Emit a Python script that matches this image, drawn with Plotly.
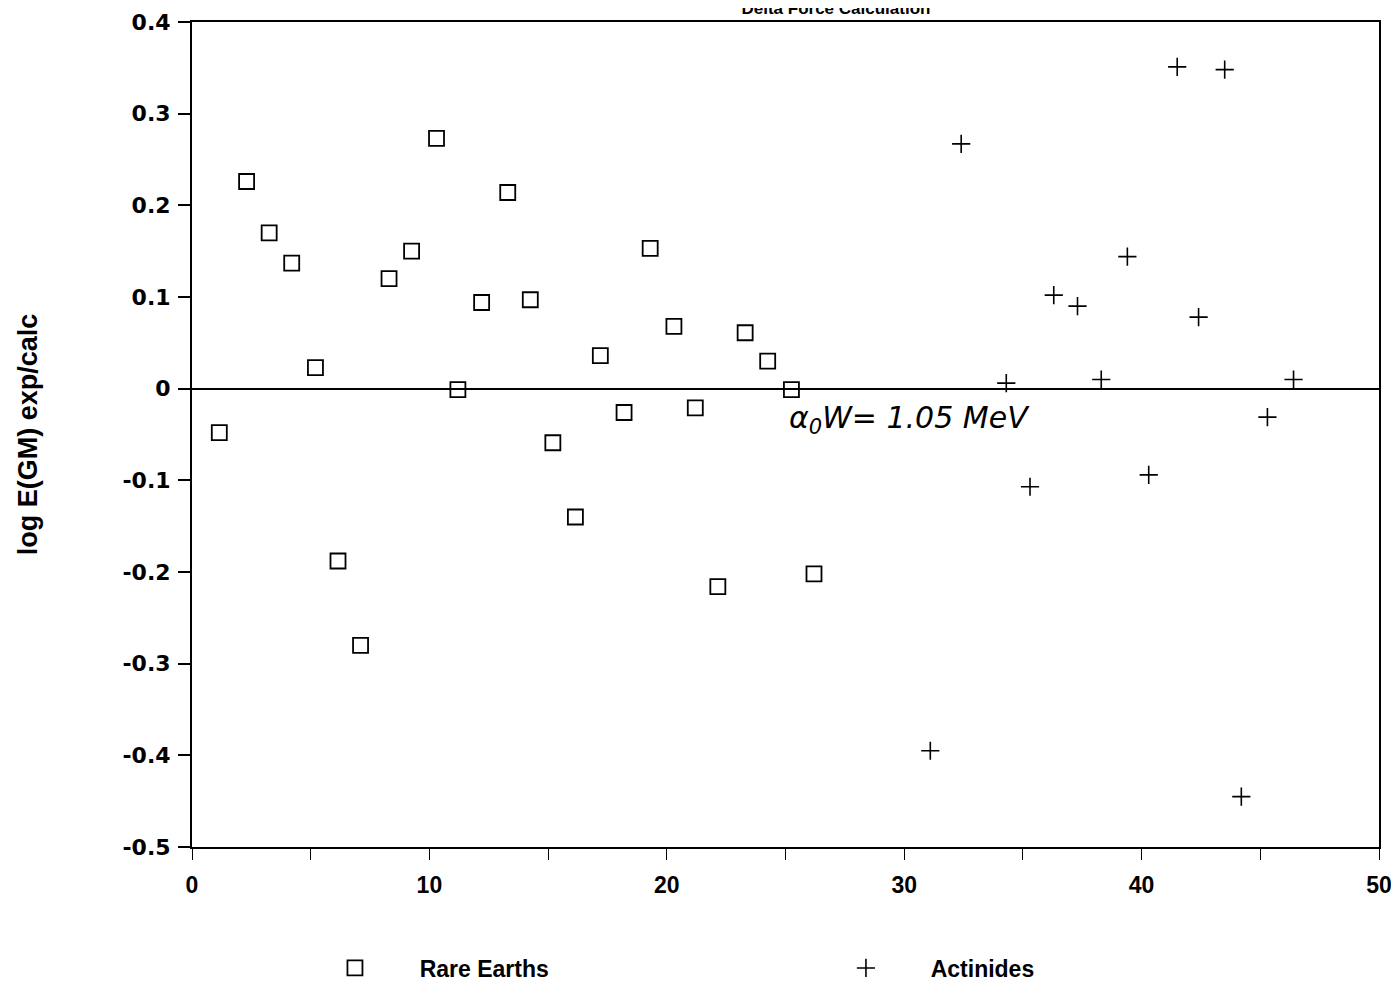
import plotly.graph_objects as go

# Rare Earths (index, log E(GM) exp/calc)
re_x = [1.15, 2.3, 3.25, 4.2, 5.2, 6.15, 7.1, 8.3, 9.25, 10.3, 11.2, 12.2, 13.3, 14.25,
        15.2, 16.15, 17.2, 18.2, 19.3, 20.3, 21.2, 22.15, 23.3, 24.25, 25.25, 26.2]
re_y = [-0.048, 0.226, 0.170, 0.137, 0.023, -0.188, -0.280, 0.120, 0.150, 0.273, -0.001,
        0.094, 0.214, 0.097, -0.059, -0.140, 0.036, -0.026, 0.153, 0.068, -0.021, -0.216,
        0.061, 0.030, -0.001, -0.202]

# Actinides
ac_x = [31.1, 32.4, 34.3, 35.3, 36.3, 37.3, 38.3, 39.4, 40.3, 41.5, 42.4, 43.5, 44.2, 45.3, 46.4]
ac_y = [-0.395, 0.267, 0.006, -0.107, 0.102, 0.090, 0.010, 0.144, -0.094, 0.351, 0.078,
        0.348, -0.445, -0.031, 0.010]

x_ticks = [0, 5, 10, 15, 20, 25, 30, 35, 40, 45, 50]
x_ticktext = ["0", "", "10", "", "20", "", "30", "", "40", "", "50"]
y_ticks = [-0.5, -0.4, -0.3, -0.2, -0.1, 0, 0.1, 0.2, 0.3, 0.4]
y_ticktext = ["-0.5", "-0.4", "-0.3", "-0.2", "-0.1", "0", "0.1", "0.2", "0.3", "0.4"]

SANS = "Liberation Sans, Arial, sans-serif"
DEJA = "DejaVu Sans, sans-serif"
NB = "\u00a0" * 7

fig = go.Figure()
fig.add_trace(go.Scatter(
    x=re_x, y=re_y, mode="markers", name=NB + "Rare Earths",
    marker=dict(symbol="square-open", size=15, color="black", line=dict(width=1.8)),
))
fig.add_trace(go.Scatter(
    x=ac_x, y=ac_y, mode="markers", name=NB + "Actinides",
    marker=dict(symbol="cross-thin-open", size=13, color="black", line=dict(width=1.6, color="black")),
))

fig.add_annotation(
    x=25.05, y=-0.034, xref="x", yref="y", xanchor="left", yanchor="middle",
    text="<i>α<sub>0</sub>W= 1.05 MeV</i>", showarrow=False,
    font=dict(family=DEJA, size=30, color="black"),
)

fig.update_layout(
    width=1399, height=982,
    paper_bgcolor="white", plot_bgcolor="white",
    margin=dict(l=184, r=28, t=14, b=143),
    title=dict(text="Delta Force Calculation", x=0.5425, xanchor="center", xref="paper",
               y=1.0, yref="container", yanchor="middle",
               font=dict(family=SANS, size=17, color="black", weight="bold")),
    font=dict(family=SANS, color="black"),
    showlegend=True,
    legend=dict(orientation="h", xref="container", yref="container",
                x=0.2337, xanchor="left", y=0.0224, yanchor="middle",
                entrywidth=466, entrywidthmode="pixels",
                font=dict(family=SANS, size=23, color="black", weight="bold"),
                bgcolor="rgba(0,0,0,0)"),
)

fig.update_xaxes(
    range=[0, 50], tickmode="array", tickvals=x_ticks, ticktext=x_ticktext,
    ticks="outside", ticklen=11, tickwidth=1.3, tickcolor="black",
    showline=True, linecolor="black", linewidth=2, mirror=True,
    showgrid=False, zeroline=False, automargin=False, ticklabelstandoff=5,
    ticklabeloverflow="allow",
    tickfont=dict(family=SANS, size=23, color="black", weight="bold"),
)
fig.update_yaxes(
    range=[-0.5, 0.4], tickmode="array", tickvals=y_ticks, ticktext=y_ticktext,
    ticks="outside", ticklen=12, tickwidth=1.5, tickcolor="black",
    showline=True, linecolor="black", linewidth=2, mirror=True,
    showgrid=False, zeroline=True, zerolinecolor="black", zerolinewidth=2,
    automargin=False, ticklabelstandoff=3, ticklabeloverflow="allow",
    tickfont=dict(family=DEJA, size=22, color="black", weight="bold"),
    title=dict(text="log E(GM) exp/calc", standoff=77,
               font=dict(family=SANS, size=27, color="black", weight="bold")),
)

fig.write_html("out.html")
